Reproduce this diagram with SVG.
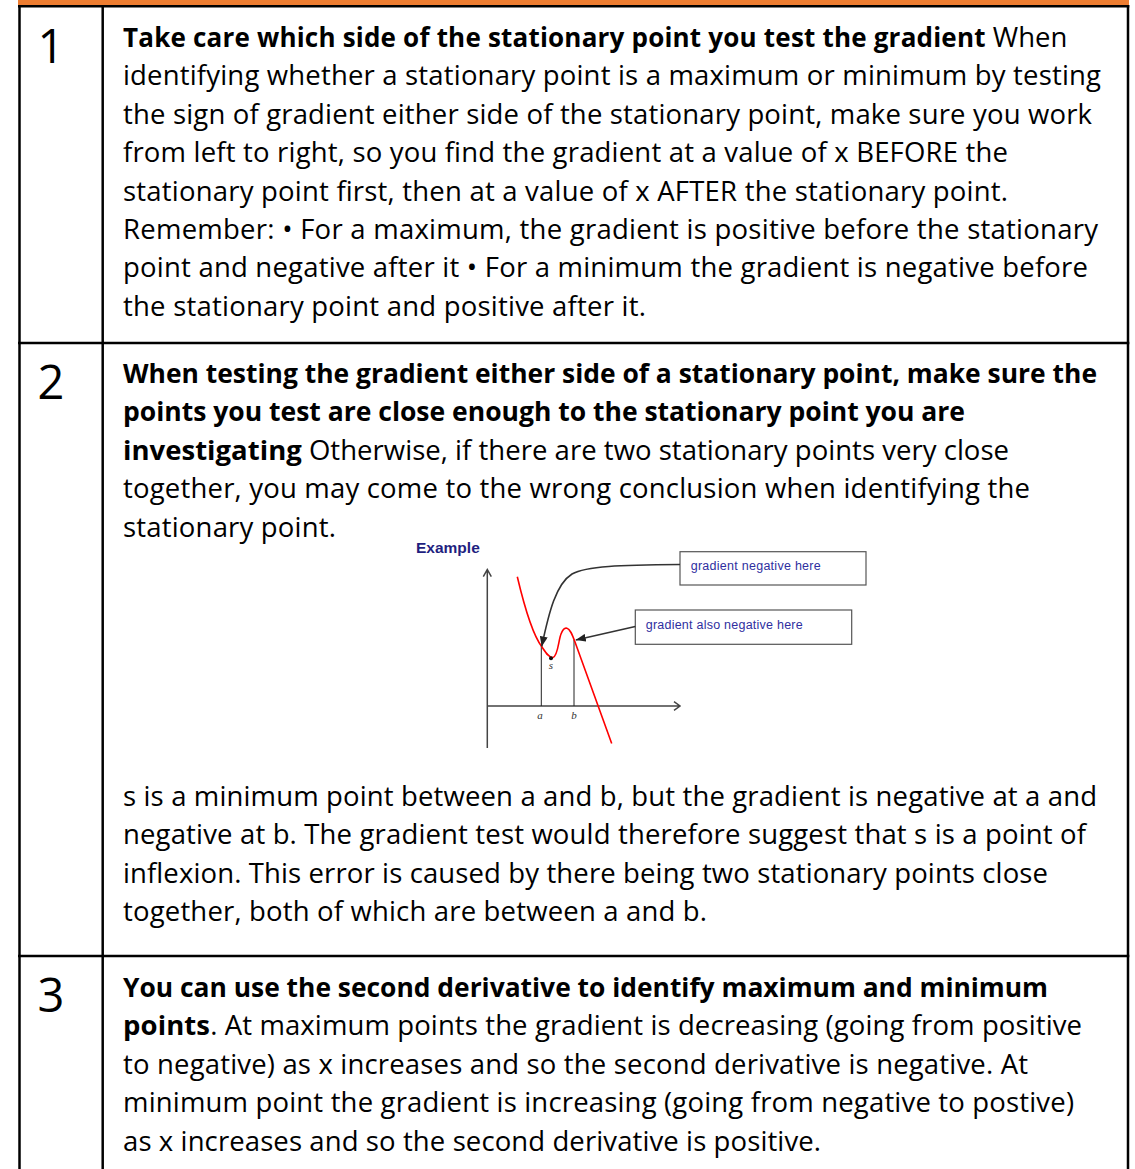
<svg xmlns="http://www.w3.org/2000/svg" width="1135" height="1169" viewBox="0 0 1135 1169">
<style>
.t{font-family:"Open Sans","Noto Sans",sans-serif;font-size:27.5px;fill:#000}
.b{font-weight:bold}
.num{font-family:"Open Sans","Noto Sans",sans-serif;font-size:47px;fill:#000;text-anchor:middle}
.grid{stroke:#000;stroke-width:2.5;fill:none}
.ax{stroke:#444;stroke-width:1.5;fill:none}
.lbl{font-family:"Liberation Sans",Arial,sans-serif;font-size:12.5px;fill:#2f2fa0}
.it{font-family:"Liberation Serif","Times New Roman",serif;font-style:italic;font-size:11px;fill:#333;text-anchor:middle}
.box{fill:#fff;stroke:#555;stroke-width:1.2}
.con{stroke:#333;stroke-width:1.6;fill:none}
</style>
<defs>
<marker id="ah" markerWidth="10" markerHeight="8" refX="10" refY="4" orient="auto" markerUnits="userSpaceOnUse"><path d="M0,0 L10,4 L0,8 z" fill="#222"/></marker>
</defs>
<rect width="1135" height="1169" fill="#fff"/>
<g id="table">
<rect x="18" y="0" width="1111" height="5.5" fill="#ED7D31"/>
<line class="grid" x1="18" y1="6.3" x2="1129.3" y2="6.3"/>
<line class="grid" x1="19.5" y1="5" x2="19.5" y2="1169"/>
<line class="grid" x1="102.7" y1="5" x2="102.7" y2="1169"/>
<line class="grid" x1="1128" y1="5" x2="1128" y2="1169"/>
<line class="grid" x1="18" y1="343" x2="1129.3" y2="343"/>
<line class="grid" x1="18" y1="956" x2="1129.3" y2="956"/>
</g>
<g id="row1">
<text class="num" x="51" y="63">1</text>
<text class="t" x="123" y="47"><tspan class="b" style="font-size:26px;letter-spacing:0.2px">Take care which side of the stationary point you test the gradient</tspan> When</text>
<text class="t" x="123" y="85.4" textLength="978">identifying whether a stationary point is a maximum or minimum by testing</text>
<text class="t" x="123" y="123.8" textLength="969">the sign of gradient either side of the stationary point, make sure you work</text>
<text class="t" x="123" y="162.2" textLength="885">from left to right, so you find the gradient at a value of x BEFORE the</text>
<text class="t" x="123" y="200.6" textLength="885">stationary point first, then at a value of x AFTER the stationary point.</text>
<text class="t" x="123" y="239" textLength="975">Remember: • For a maximum, the gradient is positive before the stationary</text>
<text class="t" x="123" y="277.4" textLength="965">point and negative after it • For a minimum the gradient is negative before</text>
<text class="t" x="123" y="315.8" textLength="523">the stationary point and positive after it.</text>
</g>
<g id="row2">
<text class="num" x="51" y="399">2</text>
<text class="t b" x="123" y="383" textLength="974" lengthAdjust="spacingAndGlyphs">When testing the gradient either side of a stationary point, make sure the</text>
<text class="t b" x="123" y="421.4" textLength="842" lengthAdjust="spacingAndGlyphs">points you test are close enough to the stationary point you are</text>
<text class="t" x="123" y="459.8" textLength="886"><tspan class="b">investigating</tspan> Otherwise, if there are two stationary points very close</text>
<text class="t" x="123" y="498.2" textLength="907">together, you may come to the wrong conclusion when identifying the</text>
<text class="t" x="123" y="536.6" textLength="213">stationary point.</text>
<text class="t" x="123" y="806" textLength="974">s is a minimum point between a and b, but the gradient is negative at a and</text>
<text class="t" x="123" y="844.4" textLength="963">negative at b. The gradient test would therefore suggest that s is a point of</text>
<text class="t" x="123" y="882.8" textLength="925">inflexion. This error is caused by there being two stationary points close</text>
<text class="t" x="123" y="921.2" textLength="584">together, both of which are between a and b.</text>
</g>
<g id="example">
<text x="416" y="553" font-family="Liberation Sans, Arial, sans-serif" font-weight="bold" font-size="15.5px" fill="#1f1f80">Example</text>
<path class="ax" d="M487.3,748 V569.5 M483.3,576.7 L487.3,569.5 L491.3,576.7"/>
<path class="ax" d="M487.3,706 H680 M674,701.7 L680,706 L674,710.3"/>
<line x1="541.3" y1="645" x2="541.3" y2="706" stroke="#222" stroke-width="1"/>
<line x1="574" y1="640" x2="574" y2="706" stroke="#222" stroke-width="1"/>
<text class="it" x="540" y="719">a</text>
<text class="it" x="574" y="719">b</text>
<text class="it" x="551" y="669">s</text>
<path d="M517.3,576.7 C524,605 532,634 542,647 C546,653 549,658 553,657.5 C558,656 558.5,640 561,634 C563,629 565,627.5 567,628.3 C570,629 572,634 575,642 L611.7,743.5" fill="none" stroke="#f00" stroke-width="1.6"/>
<circle cx="551" cy="658.3" r="2" fill="#111"/>
<g id="callout1">
<rect class="box" x="680" y="551.7" width="186" height="33.3"/>
<text class="lbl" x="690.7" y="569.5" textLength="130">gradient negative here</text>
</g>
<g id="callout2">
<rect class="box" x="635.3" y="610" width="216.4" height="34.3"/>
<text class="lbl" x="645.7" y="628.5" textLength="157">gradient also negative here</text>
</g>
<g id="connectors">
<path class="con" d="M680,564.5 C620,565 586,566 572,574 C556,584 549,612 541.7,646.5" marker-end="url(#ah)"/>
<path class="con" d="M635.3,626.5 L575.8,640" marker-end="url(#ah)"/>
</g>
</g>
<g id="row3">
<text class="num" x="51" y="1012">3</text>
<text class="t b" x="123" y="997" textLength="925" lengthAdjust="spacingAndGlyphs">You can use the second derivative to identify maximum and minimum</text>
<text class="t" x="123" y="1035.4" textLength="959"><tspan class="b">points</tspan>. At maximum points the gradient is decreasing (going from positive</text>
<text class="t" x="123" y="1073.8" textLength="905">to negative) as x increases and so the second derivative is negative. At</text>
<text class="t" x="123" y="1112.2" textLength="951">minimum point the gradient is increasing (going from negative to postive)</text>
<text class="t" x="123" y="1150.6" textLength="698">as x increases and so the second derivative is positive.</text>
</g>
</svg>
